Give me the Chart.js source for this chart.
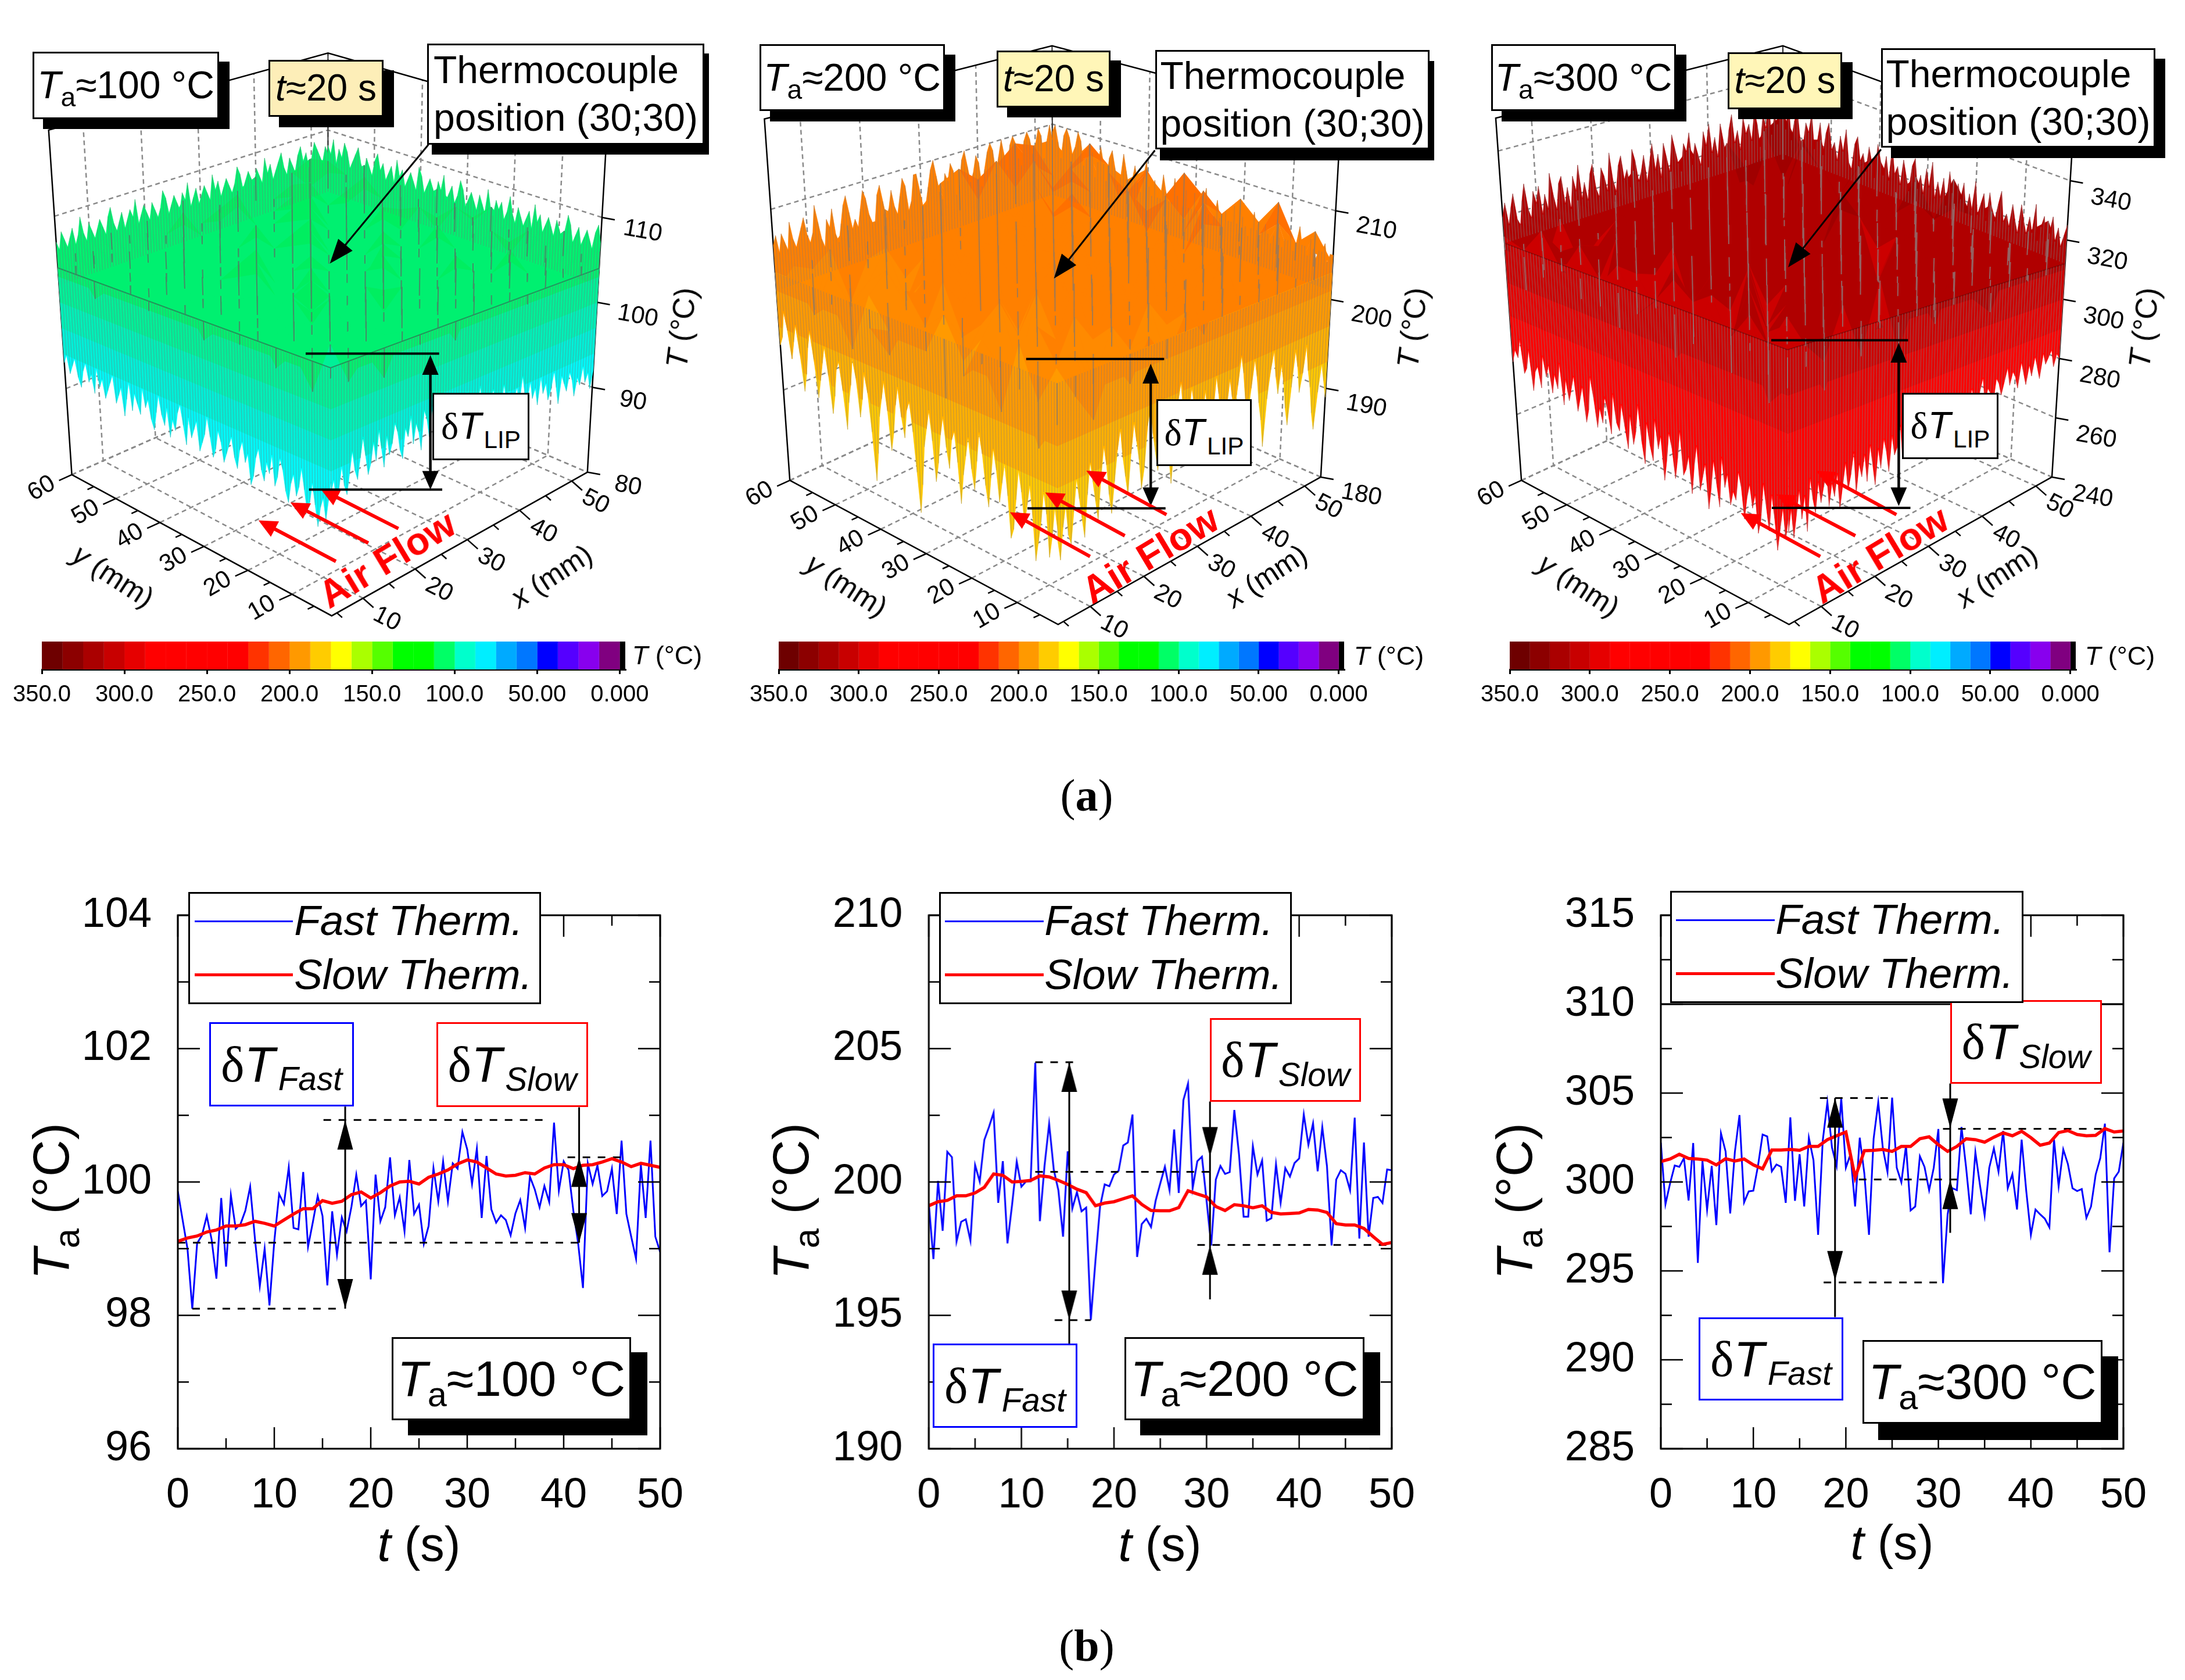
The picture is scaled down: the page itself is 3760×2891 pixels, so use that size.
<!DOCTYPE html>
<html>
<head>
<meta charset="utf-8">
<title>Surface and air temperature</title>
<script src="https://cdn.jsdelivr.net/npm/chart.js@4"></script>
<style>
html,body{margin:0;padding:0;background:#fff}
body{position:relative;width:3760px;height:2891px;overflow:hidden;font-family:"Liberation Sans",sans-serif;color:#000}
canvas{position:absolute}
.box{position:absolute;box-sizing:border-box;background:#fff;border:3px solid #000;display:flex;align-items:center;justify-content:center;white-space:pre;z-index:5;line-height:1.24}
.txt{position:absolute;white-space:pre;transform-origin:center;z-index:6}
.smp{position:absolute;z-index:6}
i{font-style:italic}
sub{font-size:.7em;vertical-align:-.3em;line-height:0}
.dl{font-family:"Liberation Serif",serif}
</style>
</head>
<body>
<script>
// LINE CHART DATA (b)
const fast100=[99.86,99.43,99.0,98.1,99.08,99.2,99.49,99.14,98.55,99.76,98.73,99.8,99.3,99.37,99.57,99.93,99.14,98.44,99.0,98.15,99.11,99.82,99.67,100.22,99.31,99.29,100.15,99.03,99.4,99.79,99.49,98.45,99.56,98.91,99.47,99.26,99.63,100.11,99.64,99.72,98.54,100.11,99.41,99.62,100.37,99.5,99.77,99.26,100.33,99.52,99.66,99.07,99.34,100.21,99.71,100.31,99.71,100.28,100.2,100.75,100.49,99.97,100.5,99.46,100.39,99.59,99.39,99.5,99.43,99.2,99.53,99.73,99.31,100.08,99.89,99.62,99.94,99.7,100.89,99.87,100.31,100.18,99.57,99.08,98.41,100.28,99.97,100.25,99.79,99.86,100.2,99.52,100.62,99.52,99.18,98.85,100.26,99.46,100.62,99.18,98.95];
const slow100=[99.11,99.16,99.19,99.25,99.28,99.34,99.34,99.36,99.41,99.38,99.34,99.43,99.52,99.6,99.6,99.72,99.68,99.71,99.81,99.85,99.76,99.84,99.94,100.0,100.01,99.97,100.07,100.12,100.18,100.27,100.33,100.3,100.21,100.12,100.09,100.1,100.14,100.12,100.21,100.26,100.26,100.2,100.25,100.26,100.3,100.35,100.3,100.23,100.28,100.25,100.22];
const fast200=[199.19,197.11,200.04,198.17,201.13,200.93,197.77,198.51,198.6,197.8,200.64,200.02,201.58,202.06,202.6,199.22,200.78,197.7,199.15,200.76,199.82,200.02,200.02,204.47,198.53,200.6,202.18,200.46,199.69,197.95,201.15,199.0,199.62,198.9,199.04,194.83,197.04,199.08,199.91,199.84,200.28,200.42,201.37,201.48,202.53,197.19,198.42,198.62,198.31,199.3,199.95,200.57,199.69,201.97,199.59,203.07,203.69,199.77,200.78,200.95,199.3,197.62,200.09,200.6,200.3,200.37,202.7,201.04,198.7,198.7,201.34,200.28,200.81,198.55,198.64,200.66,199.22,200.52,200.2,200.71,200.88,202.53,201.39,202.2,200.4,202.06,200.6,197.62,200.09,200.44,200.31,199.69,202.41,197.88,201.48,197.95,199.4,199.44,199.21,200.47,200.44];
const slow200=[199.11,199.26,199.31,199.48,199.48,199.59,199.8,200.3,200.25,200.0,200.02,200.06,200.23,200.19,200.06,199.91,199.73,199.6,199.11,199.21,199.26,199.37,199.48,199.16,198.93,198.92,198.92,199.04,199.67,199.55,199.44,199.08,198.93,199.15,199.11,199.03,199.11,198.86,198.8,198.82,198.84,198.97,198.95,198.86,198.44,198.39,198.39,198.26,197.95,197.66,197.73];
const fast300=[302.21,298.75,299.92,300.93,300.85,301.34,298.96,302.19,295.45,301.18,298.45,300.9,297.58,302.74,301.72,298.23,301.67,303.76,298.85,299.47,299.51,300.9,302.67,302.56,300.6,300.98,300.85,298.83,303.63,298.94,301.56,298.62,302.49,301.23,297.03,302.32,304.48,301.94,300.9,304.72,300.8,301.56,298.62,302.49,300.47,297.03,302.43,304.48,301.89,300.56,304.74,300.8,299.98,302.05,298.4,298.62,301.45,300.85,299.54,300.8,302.98,294.31,298.18,299.65,299.54,303.09,300.8,298.18,301.67,299.81,298.12,300.8,301.89,300.58,302.87,299.65,300.44,298.45,302.38,299.49,297.03,298.45,298.18,297.94,297.45,302.38,299.76,301.83,301.01,299.65,299.49,299.6,297.98,298.62,300.41,301.34,303.28,296.05,300.2,300.58,302.21];
const slow300=[301.15,301.29,301.56,301.32,301.29,301.23,300.96,301.31,301.18,301.29,300.96,300.74,301.8,301.8,301.83,301.78,302.0,302.0,302.38,302.6,302.81,300.25,301.76,301.78,301.83,301.72,302.0,302.0,302.43,302.54,302.1,301.72,302.0,302.43,302.38,302.24,302.52,302.76,302.6,302.85,302.49,302.07,302.19,302.78,302.89,302.67,302.6,302.62,303.0,302.81,302.87];

// dashed guide lines: from t, to t, value
const dash100=[[15.1,38.2,100.93],[1.5,16.7,98.1],[0,42.2,99.09],[40.4,46,100.37]];
const dash200=[[11.5,15.6,204.49],[13.6,17.5,194.82],[11.5,30.66,200.38],[29,50,197.64]];
const dash300=[[17.2,24.9,304.72],[17.6,30.07,294.35],[30.5,47.7,302.99],[21.4,32.2,300.14]];
// arrow stems: t, from, to
const stems100=[[17.35,101.13,98.1],[41.6,101.12,99.09]];
const stems200=[[15.17,204.49,193.94],[30.37,203.02,195.6]];
const stems300=[[18.83,304.72,292.4],[31.28,305.54,297.14]];
// arrow heads: t, tip value, 1 up / -1 down
const heads100=[[17.35,100.93,1],[17.35,98.1,-1],[41.6,100.37,1],[41.6,99.09,-1]];
const heads200=[[15.17,204.49,1],[15.17,194.82,-1],[30.37,200.95,-1],[30.37,197.63,1]];
const heads300=[[18.83,304.72,1],[18.83,294.45,-1],[31.28,303.03,-1],[31.28,300.14,1]];

// SURFACE DATA (a)
const xTicks=[10,20,30,40,50];
const yTicks=[10,20,30,40,50,60];
const tTicks100=[80,90,100,110];
const tTicks200=[180,190,200,210];
const tTicks300=[240,260,280,300,320,340];

// lowest reading along the two front edges, highest reading along the two back edges
const frontLeft100=[93,91,89,91,90,88,90,92,90,89,91,93,91,90,92,91,89,90,92,93,91,90,93,91,92,90,91,93,92,90,89,92,91,93,92,90,91,93,92,91,90,92,93,91,90,92,94,92,91,90,93,92,91,93,90,92,94,93,91,92,90,93,91,92,94,92,90,91,93,92,94,91,92,93,91,94,92,90,93,92,91,94,93,92,91,93,92,94,91,93,92,94,93,91,92,94,93,92,94,93];
const frontRight100=[92,93,91,92,94,92,91,93,95,93,92,94,96,94,92,93,95,93,96,94,92,95,93,94,96,95,93,92,95,94,96,93,95,94,92,96,95,93,96,95,94,96,93,95,96,94,95,93,92,95,94,96,94,93,95,94,96,93,95,92,94,95,93,94,92,95,93,94,91,93,94,92,95,93,92,94,92,93,91,94,92,93,91,92,94,92,90,93,92,91,93,92,90,92,91,93,91,92,90,92];
const backLeft100=[107,106,108,107,106,107,108,106,107,109,107,106,108,107,106,107,108,107,106,108,109,107,106,107,108,106,107,108,107,109,106,107,108,107,106,108,107,106,107,109,108,106,107,108,107,106,108,107,109,106,107,108,106,107,108,107,106,109,107,108,106,107,108,107,106,107,109,108,106,107,108,107,106,108,107,106,109,107,108,106,107,108,109,107,106,108,107,106,108,109,107,108,106,107,109,108,107,106,108,107];
const backRight100=[108,107,109,106,108,107,109,108,106,107,108,109,107,106,108,107,106,108,109,107,108,106,107,108,106,109,107,108,106,107,108,107,106,109,108,106,107,108,107,106,108,107,109,106,107,108,106,107,109,108,106,107,108,107,106,108,107,106,109,107,106,108,107,108,106,107,109,107,106,108,107,106,107,108,106,109,107,108,106,107,108,107,106,108,107,106,107,109,108,106,107,108,106,107,108,107,106,108,109,107];
const frontLeft200=[189,191,188,186,190,192,189,187,185,189,192,190,188,191,193,190,187,186,190,193,191,189,192,194,191,188,190,193,195,192,189,191,194,192,190,187,191,194,193,190,192,195,193,190,188,192,195,193,191,187,184,188,192,195,194,191,193,196,194,191,189,193,196,194,192,188,185,190,194,196,193,191,195,197,194,192,189,193,196,195,192,190,194,197,195,193,191,195,198,196,193,191,195,198,196,194,197,199,196,195];
const frontRight200=[188,186,189,191,188,187,190,193,191,189,187,191,194,192,190,188,192,195,193,190,188,191,194,196,193,191,189,193,196,194,192,189,191,195,197,194,192,190,193,196,194,191,188,192,196,198,195,192,194,197,195,193,190,192,196,194,191,193,197,195,192,189,193,196,194,192,195,198,196,193,191,194,197,195,192,190,187,192,195,197,194,192,195,193,190,188,192,196,194,191,193,196,193,191,188,186,190,193,191,189];
const backLeft200=[206,207,205,207,206,205,208,206,205,206,207,208,206,205,206,209,207,205,204,207,206,208,205,204,206,208,209,207,205,206,205,207,209,208,206,205,205,208,209,207,205,206,208,206,205,207,209,208,205,206,209,209,207,205,205,207,209,210,208,206,205,208,207,209,208,205,206,209,210,208,206,207,209,208,205,207,209,210,209,206,208,210,208,206,209,210,209,207,206,209,210,209,207,208,210,209,206,208,210,208];
const backRight200=[209,210,208,206,209,210,209,207,208,210,209,206,207,209,208,205,207,209,207,205,208,209,207,205,206,209,207,205,206,208,206,205,207,209,206,205,207,205,205,208,206,205,205,208,206,204,205,207,205,205,207,205,204,206,208,205,204,205,207,205,204,206,205,205,207,205,204,206,205,204,205,207,205,204,205,206,205,204,205,207,205,204,205,205,206,204,205,207,205,205,204,206,205,204,205,205,206,204,205,205];
const frontLeft300=[268,262,270,264,258,266,272,262,268,274,264,260,270,266,272,268,262,270,274,266,268,264,272,268,276,262,268,274,266,260,272,268,264,276,270,262,272,268,266,278,270,264,272,276,268,262,274,270,278,266,270,276,264,270,280,272,268,276,266,272,278,270,272,280,268,274,278,270,274,268,276,282,272,268,278,274,270,280,276,272,278,270,282,274,278,272,280,276,282,272,278,276,270,282,276,274,284,278,280,276];
const frontRight300=[264,270,262,268,274,266,272,262,276,270,266,274,268,272,276,266,272,268,274,264,270,276,268,272,278,266,274,270,276,268,278,272,266,276,270,278,274,268,278,272,274,280,270,272,278,272,280,274,268,278,272,276,282,270,278,274,280,272,276,282,274,278,272,280,282,276,274,282,278,272,280,284,276,280,278,274,282,280,276,280,284,278,282,280,276,284,280,276,282,278,284,280,276,284,280,282,284,278,282,280];
const backLeft300=[320,324,317,322,326,318,316,323,328,320,317,325,321,326,317,323,318,329,322,317,325,327,318,323,316,326,321,329,318,323,317,325,328,320,317,326,323,318,330,321,317,325,328,320,323,317,329,325,318,321,326,317,323,329,320,325,317,328,323,318,330,325,320,317,326,323,329,318,325,321,317,328,323,330,320,325,318,329,323,317,326,331,321,325,318,329,323,326,320,330,325,317,328,323,331,320,326,323,329,325];
const backRight300=[326,321,330,318,325,329,320,317,326,323,330,318,321,328,317,325,329,320,323,317,326,321,329,318,316,325,328,320,323,317,326,321,316,328,323,318,325,317,329,320,323,317,326,321,316,325,328,318,323,317,326,320,329,317,323,318,325,316,328,321,317,325,320,326,316,323,318,328,317,321,325,316,326,320,317,323,328,318,321,317,325,320,316,326,321,317,323,318,328,316,321,325,317,320,326,318,323,317,321,325];

// surface at the grid nodes, rows run front to back in x, columns front to back in y
const grid100=[
[103,101,104,102,105,103,104,102,105,104,103,105,104,102,105,104],
[102,105,103,106,104,105,103,106,105,104,106,103,105,104,106,105],
[104,103,106,105,107,104,106,105,103,106,107,105,104,106,105,103],
[101,106,104,107,105,106,104,107,106,105,104,107,106,105,104,106],
[105,104,107,103,106,107,105,104,107,106,105,103,107,104,106,105],
[103,106,105,107,104,105,107,106,104,107,105,106,104,107,105,106],
[105,104,107,106,105,103,106,107,105,104,107,105,106,105,107,104],
[102,107,105,104,107,106,105,104,107,106,105,107,104,106,105,107],
[106,105,103,107,105,107,104,106,105,107,106,104,105,107,106,104],
[104,106,107,105,104,106,107,105,106,104,107,106,105,104,107,105],
[105,103,106,107,105,104,106,107,104,106,105,107,106,105,104,106],
[103,107,105,104,106,107,105,103,107,105,106,104,107,106,105,107],
[106,105,107,106,103,105,107,106,105,107,104,106,105,107,106,104],
[104,106,104,105,107,106,104,105,107,106,105,107,106,104,105,106],
[105,103,106,107,105,104,106,107,105,103,106,105,107,105,106,107],
[106,105,107,104,106,105,107,105,106,107,105,106,104,107,105,106]];
const grid200=[
[199,196,201,198,202,200,197,201,203,199,201,198,202,200,203,201],
[201,203,199,204,201,203,200,204,202,205,200,203,201,204,199,203],
[198,204,202,205,200,206,203,201,206,204,202,205,203,200,205,202],
[203,200,206,203,207,202,205,207,203,206,204,201,206,204,207,203],
[200,205,203,208,204,206,201,205,208,203,207,205,202,207,204,205],
[204,202,207,205,203,208,206,204,207,205,203,208,206,204,207,202],
[201,206,204,208,206,203,207,205,209,204,206,203,208,205,203,206],
[205,203,208,204,207,205,209,203,206,208,205,207,204,209,206,204],
[202,207,205,209,203,206,204,208,205,207,203,209,206,204,208,205],
[206,204,202,207,205,208,206,203,209,205,207,204,208,206,203,207],
[203,208,206,204,209,205,203,207,205,208,206,209,204,207,205,208],
[205,202,207,205,203,208,206,209,204,206,208,205,207,203,209,206],
[207,204,209,206,208,204,207,205,209,207,204,208,206,209,205,207],
[204,207,205,203,207,209,205,208,206,204,209,206,208,205,207,209],
[206,203,208,206,204,207,209,205,207,209,206,204,209,207,205,208],
[204,207,205,209,206,208,204,207,209,205,208,206,207,209,206,208]];
const grid300=[
[302,296,308,300,310,304,298,312,306,300,310,304,312,306,300,314],
[306,312,300,314,306,310,302,316,308,304,314,300,310,306,316,308],
[298,308,314,304,318,300,312,308,316,302,310,318,304,312,308,300],
[310,302,316,308,304,320,306,314,300,318,308,304,316,310,302,314],
[304,316,306,320,310,302,318,308,322,306,312,320,302,316,308,318],
[312,300,318,306,316,312,304,322,310,316,300,314,320,306,318,310],
[302,320,310,314,300,322,316,306,318,304,324,310,312,322,304,316],
[316,308,304,322,312,306,320,314,302,322,316,306,320,300,314,322],
[306,318,314,300,324,316,302,320,312,318,306,324,310,316,322,308],
[320,304,322,312,308,318,326,306,316,300,322,314,304,324,310,318],
[310,316,302,324,318,304,314,322,308,326,312,302,320,316,306,324],
[304,322,312,306,320,316,300,318,324,310,304,322,314,308,326,312],
[318,308,324,316,302,322,312,306,320,316,326,308,304,322,316,306],
[312,320,306,318,326,310,322,316,304,324,312,318,326,306,320,314],
[322,306,316,324,308,320,314,326,318,306,322,310,316,324,308,322],
[310,324,318,304,322,316,326,308,320,314,324,318,306,322,316,326]];

const bandLevels100=[0,94,97,100,103,106];
const bandColors100=["#00f8f8","#00f0d8","#00f0b8","#00f098","#00f070","#00ee60"];
const bandLevels200=[0,193,197,201,204,207];
const bandColors200=["#ffc800","#ffb000","#ff9a00","#ff8a00","#ff8000","#ff7000"];
const bandLevels300=[0,290,300,310,318];
const bandColors300=["#ff0000","#e60000","#cc0000","#b00000","#a00000"];

// COLOUR BAR
const barTicks=[350,300,250,200,150,100,50,0];
const barTickLabels=["350.0","300.0","250.0","200.0","150.0","100.0","50.00","0.000"];
const barTops=[350,337.5,325,312.5,300,287.5,275,262.5,250,237.5,225,212.5,200,187.5,175,162.5,150,137.5,125,112.5,100,87.5,75,62.5,50,37.5,25,12.5];
const barColors=["#6e0000","#8c0000","#aa0000","#c80000","#e60000","#ff0000","#ff0000","#ff0000","#ff0000","#ff0000","#ff3300","#ff6600","#ff9900","#ffcc00","#ffff00","#aaff00","#55ff00","#00ff00","#00ff00","#00ff66","#00ffcc","#00eeff","#00aaff","#0077ff","#0000ff","#5500ff","#8800ee","#800080"];

Chart.defaults.font.family='"Liberation Sans"';
Chart.defaults.color="#000";
Chart.defaults.animation=false;
Chart.defaults.events=[];

function addCanvas(left,top,w,h){
const c=document.createElement("canvas");
c.width=w;c.height=h;
c.style.left=left+"px";c.style.top=top+"px";c.style.width=w+"px";c.style.height=h+"px";
document.body.appendChild(c);
return c;
}

function addBox(x0,y0,x1,y1,html,font,opt){
opt=opt||{};
const d=document.createElement("div");
d.className="box";
d.style.cssText="left:"+x0+"px;top:"+y0+"px;width:"+(x1-x0)+"px;height:"+(y1-y0)+"px;font-size:"+font+"px;"+
"border-color:"+(opt.border||"#000")+";background:"+(opt.bg||"#fff")+";"+
(opt.shadow?"box-shadow:"+opt.shadow[0]+"px "+opt.shadow[1]+"px 0 #000;":"")+(opt.css||"");
d.innerHTML="<span>"+html+"</span>";
document.body.appendChild(d);
}

function addText(cx,cy,html,font,rot,css){
const d=document.createElement("div");
d.className="txt";
d.style.cssText="left:"+cx+"px;top:"+cy+"px;font-size:"+font+"px;transform:translate(-50%,-50%) rotate("+(rot||0)+"deg);"+(css||"");
d.innerHTML=html;
document.body.appendChild(d);
}

function drawHead(ctx,x,y,dx,dy,len,half,color){
ctx.fillStyle=color;
ctx.beginPath();
ctx.moveTo(x,y);
ctx.lineTo(x-dx*len-dy*half,y-dy*len+dx*half);
ctx.lineTo(x-dx*len+dy*half,y-dy*len-dx*half);
ctx.closePath();
ctx.fill();
}

// axis frame, inner ticks and arrows of the line charts
const framePlugin={
id:"frame",
afterDatasetsDraw(chart,args,opts){
const ctx=chart.ctx,a=chart.chartArea,sx=chart.scales.x,sy=chart.scales.y;
ctx.save();
ctx.strokeStyle="#000";
ctx.lineWidth=3;
ctx.strokeRect(a.left,a.top,a.right-a.left,a.bottom-a.top);
ctx.lineWidth=2.5;
ctx.beginPath();
for(let t=0;t<=50;t+=5){
const p=sx.getPixelForValue(t),l=t%10==0?37:18;
ctx.moveTo(p,a.bottom);ctx.lineTo(p,a.bottom-l);
ctx.moveTo(p,a.top);ctx.lineTo(p,a.top+l);
}
const half=opts.step/2;
for(let v=sy.min;v<=sy.max;v+=half){
const p=sy.getPixelForValue(v),l=(v-sy.min)%opts.step==0?38:19;
ctx.moveTo(a.left,p);ctx.lineTo(a.left+l,p);
ctx.moveTo(a.right,p);ctx.lineTo(a.right-l,p);
}
ctx.stroke();
ctx.lineWidth=3;
ctx.beginPath();
opts.stems.forEach(s=>{
const p=sx.getPixelForValue(s[0]);
ctx.moveTo(p,sy.getPixelForValue(s[1]));
ctx.lineTo(p,sy.getPixelForValue(s[2]));
});
ctx.stroke();
opts.heads.forEach(h=>{
drawHead(ctx,sx.getPixelForValue(h[0]),sy.getPixelForValue(h[1]),0,-h[2],51,13.5,"#000");
});
ctx.restore();
}
};

function lineChart(b,yMin,yMax,yStep,fast,slow,dashes,stems,heads,extra){
const cv=addCanvas(b.left-306,1400,b.right-b.left+306+114,1350);
const ds=[
{label:"Slow Therm.",data:slow.map((v,i)=>({x:i,y:v})),borderColor:"#ff0000",borderWidth:5.5,showLine:true,pointRadius:0,tension:0}
];
dashes.forEach(d=>{
ds.push({data:[{x:d[0],y:d[2]},{x:d[1],y:d[2]}],borderColor:"#000",borderWidth:3,borderDash:[13,13],showLine:true,pointRadius:0});
});
ds.push({label:"Fast Therm.",data:fast.map((v,i)=>({x:i*0.5,y:v})),borderColor:"#0000ff",borderWidth:3,showLine:true,pointRadius:0,tension:0});
if(extra) ds.push({data:[{x:0,y:extra},{x:50,y:extra}],borderColor:"#000",borderWidth:3,showLine:true,pointRadius:0});
new Chart(cv,{
type:"scatter",
data:{datasets:ds},
options:{
responsive:false,
layout:{padding:{left:0,top:175,right:114,bottom:0}},
plugins:{legend:{display:false},tooltip:{enabled:false},frame:{step:yStep,stems:stems,heads:heads}},
scales:{
x:{type:"linear",min:0,max:50,grid:{display:false,drawTicks:false},border:{display:false},
ticks:{stepSize:10,font:{size:72},color:"#000",padding:38,maxRotation:0},afterFit(s){s.height=257;}},
y:{type:"linear",min:yMin,max:yMax,grid:{display:false,drawTicks:false},border:{display:false},
ticks:{stepSize:yStep,font:{size:72},color:"#000",padding:45},afterFit(s){s.width=306;}}
}
},
plugins:[framePlugin]
});
}

function addLegend(x0,y0,x1,smpA,smpB,textX){
addBox(x0,y0,x1,y0+193,"",10);
addText(textX+197,y0+48,"<i>Fast Therm.</i>",73);
addText(textX+205,y0+141,"<i>Slow Therm.</i>",73);
addSample(smpA,smpB,y0+50,"#0000ff",3);
addSample(smpA,smpB,y0+142,"#ff0000",5);
}

function addSample(a,b,y,color,w){
const d=document.createElement("div");
d.className="smp";
d.style.cssText="left:"+a+"px;top:"+(y-w/2)+"px;width:"+(b-a)+"px;height:"+w+"px;background:"+color;
document.body.appendChild(d);
}

function deltaHtml(name){
return '<span class="dl">δ</span><i>T</i><i style="font-size:.66em;position:relative;top:.27em;margin-left:.1em">'+name+'</i>';
}
function lipHtml(){
return '<span class="dl">δ</span><i>T</i><span style="font-size:.66em;position:relative;top:.38em;margin-left:.1em">LIP</span>';
}
function taHtml(v){
return "<i>T</i><sub>a</sub>≈"+v+" °C";
}

// 3D projection from the eight corners of the plot box
function project(p,x,y,T){
const u=(x-p.xRange[0])/(p.xRange[1]-p.xRange[0]);
const v=(y-p.yRange[0])/(p.yRange[1]-p.yRange[0]);
const w=(T-p.tRange[0])/(p.tRange[1]-p.tRange[0]);
const mix=c=>{
const f=c.F[0]*(1-u)*(1-v)+c.R[0]*u*(1-v)+c.L[0]*(1-u)*v+c.B[0]*u*v;
const g=c.F[1]*(1-u)*(1-v)+c.R[1]*u*(1-v)+c.L[1]*(1-u)*v+c.B[1]*u*v;
return [f,g];
};
const a=mix(p.floor),b=mix(p.top);
return {x:a[0]+(b[0]-a[0])*w,y:a[1]+(b[1]-a[1])*w};
}

function poly(pts,color){
return {data:pts,showLine:true,fill:"shape",backgroundColor:color,borderColor:color,borderWidth:0.6,pointRadius:0,tension:0};
}
function path(pts,color,width,dash){
return {data:pts,showLine:true,fill:false,borderColor:color,borderWidth:width,borderDash:dash||[],pointRadius:0,tension:0};
}
function bandColor(levels,colors,t){
let c=colors[0];
levels.forEach((l,i)=>{if(t>=l)c=colors[i];});
return c;
}

const panelPlugin={
id:"panel",
afterDatasetsDraw(chart,args,opts){
const ctx=chart.ctx,sx=chart.scales.x,sy=chart.scales.y;
const px=v=>sx.getPixelForValue(v),py=v=>sy.getPixelForValue(v);
ctx.save();
opts.labels.forEach(l=>{
ctx.save();
ctx.translate(px(l.x),py(l.y));
ctx.rotate(l.rot*Math.PI/180);
ctx.font='42px "Liberation Sans"';
ctx.fillStyle="#000";
ctx.textAlign="center";
ctx.textBaseline="middle";
ctx.fillText(l.text,0,0);
ctx.restore();
});
opts.arrows.forEach(a=>{
const dx=a[2]-a[0],dy=a[3]-a[1],n=Math.hypot(dx,dy);
ctx.strokeStyle=a[4];
ctx.lineWidth=a[5];
ctx.beginPath();
ctx.moveTo(px(a[0]),py(a[1]));
ctx.lineTo(px(a[2])-dx/n*a[6]*0.7,py(a[3])-dy/n*a[6]*0.7);
ctx.stroke();
drawHead(ctx,px(a[2]),py(a[3]),dx/n,dy/n,a[6],a[7],a[4]);
});
opts.rules.forEach(r=>{
ctx.strokeStyle="#000";
ctx.lineWidth=4;
ctx.beginPath();
ctx.moveTo(px(r[0]),py(r[2]));
ctx.lineTo(px(r[1]),py(r[2]));
ctx.stroke();
});
ctx.restore();
}
};

function surfaceChart(p,left,width){
const cv=addCanvas(left,0,width,1300);
const ds=[];
const x0=p.xRange[0],x1=p.xRange[1],y0=p.yRange[0],y1=p.yRange[1],t0=p.tRange[0];
const P=(x,y,t)=>project(p,x,y,t);
const floorGrid="#8a8a8a";
// walls and floor
const tTop=p.tRange[1];
p.tTicks.forEach(t=>{
ds.push(path([P(x0,y1,t),P(x1,y1,t),P(x1,y0,t)],floorGrid,2.5,[8,6]));
});
xTicks.forEach(x=>{
ds.push(path([P(x,y0,t0),P(x,y1,t0),P(x,y1,tTop)],floorGrid,2.5,[8,6]));
});
yTicks.forEach(y=>{
ds.push(path([P(x0,y,t0),P(x1,y,t0),P(x1,y,tTop)],floorGrid,2.5,[8,6]));
});
ds.push(path([P(x0,y1,t0),P(x1,y1,t0),P(x1,y0,t0)],floorGrid,2.5,[8,6]));
ds.push(path([P(x1,y1,t0),P(x1,y1,tTop)],"#333",2));
ds.push(path([P(x0,y1,t0),P(x0,y1,tTop),P(x1,y1,tTop),P(x1,y0,tTop),P(x1,y0,t0)],"#000",2.5));
ds.push(path([P(x0,y1,t0),P(x0,y0,t0),P(x1,y0,t0)],"#000",2.5));
// axis ticks
const labels=[];
xTicks.forEach(x=>{
const a=P(x,y0,t0);
ds.push(path([a,{x:a.x+18,y:a.y+16}],"#000",2.5));
labels.push({x:a.x+41,y:a.y+36,rot:27,text:String(x)});
const m=P(x-5,y0,t0);
if(x-5>x0) ds.push(path([m,{x:m.x+9,y:m.y+8}],"#000",2.5));
});
yTicks.forEach(y=>{
const a=P(x0,y,t0);
ds.push(path([a,{x:a.x-22,y:a.y+10}],"#000",2.5));
labels.push({x:a.x-52,y:a.y+24,rot:-30,text:String(y)});
const m=P(x0,y-5,t0);
ds.push(path([m,{x:m.x-11,y:m.y+5}],"#000",2.5));
});
p.tTicks.forEach(t=>{
const a=P(x1,y0,t);
ds.push(path([a,{x:a.x+22,y:a.y+4}],"#000",2.5));
labels.push({x:a.x+70,y:a.y+p.tLabelDy,rot:10,text:String(t)});
});
// back spikes
const lv=p.levels,cl=p.colors,topC=cl[cl.length-2];
const back=[];
p.backLeft.forEach((t,i)=>{back.push(P(x0+(x1-x0)*i/(p.backLeft.length-1),y1,t));});
p.backRight.forEach((t,i)=>{back.push(P(x1,y1+(y0-y1)*i/(p.backRight.length-1),t));});
ds.push(poly(back.concat([P(x1,y0,p.plateau-4),P(x0,y0,p.plateau-4),P(x0,y1,p.plateau-4)]),topC));
// front skirts, coldest band first
const skirt=(mins,edge)=>{
lv.forEach((lo,b)=>{
if(lo>=p.skirtTop) return;
const top=[],low=[];
mins.forEach((t,i)=>{
const f=i/(mins.length-1);
const e=edge(f);
top.push(P(e[0],e[1],p.skirtTop));
low.push(P(e[0],e[1],Math.max(t,lo)));
});
ds.push(poly(top.concat(low.reverse()),cl[b]));
});
};
skirt(p.frontLeft,f=>[x0,y0+(y1-y0)*f]);
skirt(p.frontRight,f=>[x0+(x1-x0)*f,y0]);
// top of the surface, back cells first
const n=p.grid.length;
const gx=i=>x0+(x1-x0)*i/(n-1),gy=j=>y0+(y1-y0)*j/(n-1);
for(let i=n-2;i>=0;i--){
for(let j=n-2;j>=0;j--){
const a=p.grid[i][j],b=p.grid[i+1][j],c=p.grid[i+1][j+1],d=p.grid[i][j+1];
ds.push(poly([P(gx(i),gy(j),a),P(gx(i+1),gy(j),b),P(gx(i+1),gy(j+1),c),P(gx(i),gy(j+1),d)],bandColor(lv,cl,(a+b+c+d)/4)));
}
}
if(p.contour) ds.push(path([P(x0,y1,p.skirtTop),P(x0,y0,p.skirtTop),P(x1,y0,p.skirtTop)],p.contour,2));
// grey mesh streaks
const gap={x:NaN,y:NaN};
const streak=[];
p.frontLeft.forEach((t,i)=>{
const y=y0+(y1-y0)*i/(p.frontLeft.length-1);
streak.push(P(x0,y,t),P(x0,y,p.skirtTop),gap);
});
p.frontRight.forEach((t,i)=>{
const x=x0+(x1-x0)*i/(p.frontRight.length-1);
streak.push(P(x,y0,t),P(x,y0,p.skirtTop),gap);
});
p.backLeft.forEach((t,i)=>{
const x=x0+(x1-x0)*i/(p.backLeft.length-1);
streak.push(P(x,y1,t),P(x,y1,p.plateau-4),gap);
});
p.backRight.forEach((t,i)=>{
const y=y1+(y0-y1)*i/(p.backRight.length-1);
streak.push(P(x1,y,t),P(x1,y,p.plateau-4),gap);
});
ds.push(path(streak,p.streak,1.2));
// short streaks on the top face, one per grid node
const flecks=[];
p.grid.forEach((row,i)=>{
row.forEach((t,j)=>{
flecks.push(P(gx(i),gy(j),t),P(gx(i),gy(j),p.plateau+p.streakUp),gap);
});
});
ds.push(path(flecks,p.fleck,2));
ds.reverse();
new Chart(cv,{
type:"scatter",
data:{datasets:ds},
options:{
responsive:false,
layout:{padding:0},
plugins:{legend:{display:false},tooltip:{enabled:false},panel:{labels:labels,arrows:p.arrows,rules:p.rules}},
scales:{
x:{type:"linear",display:false,min:left,max:left+width},
y:{type:"linear",display:false,min:0,max:1300,reverse:true}
}
},
plugins:[panelPlugin]
});
}

function colorBar(barLeft,tail){
const pad=70;
const w=tail-barLeft;
const cv=addCanvas(barLeft-pad,1090,w+pad*2,140);
const ds=[];
barTops.forEach((t,i)=>{
const lo=i+1<barTops.length?barTops[i+1]:0;
ds.push(poly([{x:t,y:0},{x:lo,y:0},{x:lo,y:1},{x:t,y:1}],barColors[i]));
});
ds.push(poly([{x:0,y:0},{x:-3.4,y:0},{x:-3.4,y:1},{x:0,y:1}],"#000"));
new Chart(cv,{
type:"scatter",
data:{datasets:ds},
options:{
responsive:false,
layout:{padding:{left:pad,right:pad,top:14,bottom:0}},
plugins:{legend:{display:false},tooltip:{enabled:false}},
scales:{
x:{type:"linear",min:-3.4,max:350,reverse:true,
afterBuildTicks(s){s.ticks=barTicks.map(v=>({value:v}));},
ticks:{autoSkip:false,maxRotation:0,font:{size:40},color:"#000",padding:12,callback(v,i){return barTickLabels[i];}},
grid:{display:true,drawOnChartArea:false,drawTicks:true,tickLength:8,color:"#000",lineWidth:3},
border:{display:true,color:"#000",width:3},
afterFit(s){s.height=78;}},
y:{display:false,min:0,max:1}
}
}
});
}

// TOP ROW
surfaceChart({
xRange:[4,53],yRange:[1,60],tRange:[80,120],tTicks:tTicks100,tLabelDy:24,
floor:{F:[570.8,1059.7],R:[1010.8,812.6],L:[123.6,816.8],B:[564.4,621.9]},
top:{F:[567.6,348.3],R:[1044.3,228],L:[83.7,223.9],B:[564.4,91.2]},
frontLeft:frontLeft100,frontRight:frontRight100,backLeft:backLeft100,backRight:backRight100,grid:grid100,
levels:bandLevels100,colors:bandColors100,plateau:106,skirtTop:104,streakUp:-2,streak:"rgba(120,120,120,.42)",fleck:"rgba(90,110,100,.75)",contour:"rgba(50,90,70,.6)",
arrows:[
[737.4,248.8,567.6,453.6,"#000",3,42,16],
[740.6,820,740.6,611,"#000",4,34,14],
[740.6,630,740.6,842.5,"#000",4,32,14],
[685.6,909.6,551.7,841.6,"#ff0000",6,32,15],
[633.8,934.5,499.8,864.8,"#ff0000",6,32,15],
[578,966,444.8,895.5,"#ff0000",6,32,15]],
rules:[[526,755.7,608.6],[531.7,761,842.5]]
},0,1260);
surfaceChart({
xRange:[4,53],yRange:[1,60],tRange:[180,220],tTicks:tTicks200,tLabelDy:31,
floor:{F:[1820.8,1074.6],R:[2272.8,820.9],L:[1359.2,826.7],B:[1812,618]},
top:{F:[1817.6,352.4],R:[2307,210],L:[1315.4,204.8],B:[1810.4,78.8]},
frontLeft:frontLeft200,frontRight:frontRight200,backLeft:backLeft200,backRight:backRight200,grid:grid200,
levels:bandLevels200,colors:bandColors200,plateau:205,skirtTop:203,streakUp:-2,streak:"rgba(120,120,130,.42)",fleck:"rgba(130,120,110,.7)",
arrows:[
[1987.4,258.7,1813.6,479.3,"#000",3,42,16],
[1980.2,840,1980.2,626,"#000",4,34,14],
[1980.2,650,1980.2,870.7,"#000",4,32,14],
[2007.3,885.6,1869.4,810,"#ff0000",6,32,15],
[1935.6,922,1798.5,847.4,"#ff0000",6,32,15],
[1875.8,957.7,1737.9,881.4,"#ff0000",6,32,15]],
rules:[[1765.8,2003.3,617.7],[1768,2005.7,874.8]]
},1250,1250);
surfaceChart({
xRange:[4,53],yRange:[1,60],tRange:[240,350],tTicks:tTicks300,tLabelDy:34,
floor:{F:[3078.6,1074.6],R:[3531,820.9],L:[2618.1,826.7],B:[3068,618]},
top:{F:[3074.6,352.4],R:[3565.6,260],L:[2573.9,203.2],B:[3068,78.8]},
frontLeft:frontLeft300,frontRight:frontRight300,backLeft:backLeft300,backRight:backRight300,grid:grid300,
levels:bandLevels300,colors:bandColors300,plateau:316,skirtTop:312,streakUp:-6,streak:"rgba(130,130,130,.55)",fleck:"rgba(140,130,130,.75)",contour:"rgba(90,0,0,.5)",
arrows:[
[3236.9,257,3077,460,"#000",3,42,16],
[3267.4,840,3267.4,590,"#000",4,34,14],
[3267.4,610,3267.4,870.7,"#000",4,32,14],
[3263.4,885.6,3125.2,810,"#ff0000",6,32,15],
[3192.7,922,3056.9,850.7,"#ff0000",6,32,15],
[3132.4,957.7,2995.8,883,"#ff0000",6,32,15]],
rules:[[3048,3283.5,585.4],[3048.9,3287.5,874]]
},2500,1260);

colorBar(71.7,1076);
colorBar(1340,2313);
colorBar(2598,3572);

// top row boxes
addBox(56,89,377,205,taHtml(100),66,{shadow:[18,17]});
addBox(462,103,660,201,"<i>t</i>≈20 s",64,{bg:"#fdeeb8",shadow:[18,18]});
addBox(735,75,1212,249,"Thermocouple\nposition (30;30)",66,{shadow:[8,17]});
addBox(744,676,911,792,lipHtml(),64);
addBox(1307,76,1626,191,taHtml(200),66,{shadow:[18,18]});
addBox(1715,87,1911,185,"<i>t</i>≈20 s",64,{bg:"#fff6b8",shadow:[18,17]});
addBox(1988,86,2460,257,"Thermocouple\nposition (30;30)",66,{shadow:[8,19]});
addBox(1990,687,2154,802,lipHtml(),64);
addBox(2566,76,2884,191,taHtml(300),66,{shadow:[18,18]});
addBox(2973,90,3170,188,"<i>t</i>≈20 s",64,{bg:"#fff6b8",shadow:[18,17]});
addBox(3237,83,3709,254,"Thermocouple\nposition (30;30)",66,{shadow:[17,18]});
addBox(3273,676,3439,790,lipHtml(),64);

const airStyle="color:#ff0000;font-weight:bold";
addText(666,962,"Air Flow",66,-31,airStyle);
addText(1979,954,"Air Flow",66,-31,airStyle);
addText(3235,954,"Air Flow",66,-31,airStyle);

const axisT="<i>T</i> (°C)";
addText(1172,564,axisT,52,-83);
addText(2430,564,axisT,52,-83);
addText(3689,564,axisT,52,-83);
addText(1148,1128,axisT,45);
addText(2390,1129,axisT,45);
addText(3648,1129,axisT,45);
addText(195,991,"<i>y</i> (mm)",50,33);
addText(949,991,"<i>x</i> (mm)",50,-33);
addText(1457,1007,"<i>y</i> (mm)",50,33);
addText(2179,991,"<i>x</i> (mm)",50,-33);
addText(2717,1007,"<i>y</i> (mm)",50,33);
addText(3436,991,"<i>x</i> (mm)",50,-33);
addText(1870,1369,"(<b>a</b>)",78,0,'font-family:"Liberation Serif",serif');
addText(1870,2832,"(<b>b</b>)",78,0,'font-family:"Liberation Serif",serif');

// BOTTOM ROW
lineChart({left:306,right:1136},96,104,2,fast100,slow100,dash100,stems100,heads100);
lineChart({left:1598.3,right:2394.7},190,210,5,fast200,slow200,dash200,stems200,heads200);
lineChart({left:2857.7,right:3654},285,315,5,fast300,slow300,dash300,stems300,heads300,310);

addBox(751,1759,1012,1905,deltaHtml("Slow"),86,{border:"#ff0000"});
addBox(360,1759,609,1904,deltaHtml("Fast"),86,{border:"#0000ff"});
addLegend(324,1535,931,335,504,506);
addBox(674,2301,1086,2444,taHtml(100),85,{shadow:[28,26]});

addBox(2082,1752,2342,1896,deltaHtml("Slow"),86,{border:"#ff0000"});
addBox(1605,2312,1854,2457,deltaHtml("Fast"),86,{border:"#0000ff"});
addLegend(1616,1535,2223,1626,1796,1797);
addBox(1935,2301,2348,2444,taHtml(200),85,{shadow:[27,26]});

addBox(3356,1721,3617,1865,deltaHtml("Slow"),86,{border:"#ff0000"});
addBox(2923,2267,3172,2410,deltaHtml("Fast"),86,{border:"#0000ff"});
addLegend(2874,1533,3482,2884,3054,3055);
addBox(3205,2306,3618,2450,taHtml(300),85,{shadow:[27,28]});

const axisTa="<i>T</i><sub>a</sub> (°C)";
addText(88,2067,axisTa,88,-90);
addText(1361,2067,axisTa,88,-90);
addText(2606,2067,axisTa,88,-90);
addText(721,2658,"<i>t</i> (s)",83);
addText(1996,2658,"<i>t</i> (s)",83);
addText(3256,2655,"<i>t</i> (s)",83);
</script>
</body>
</html>
